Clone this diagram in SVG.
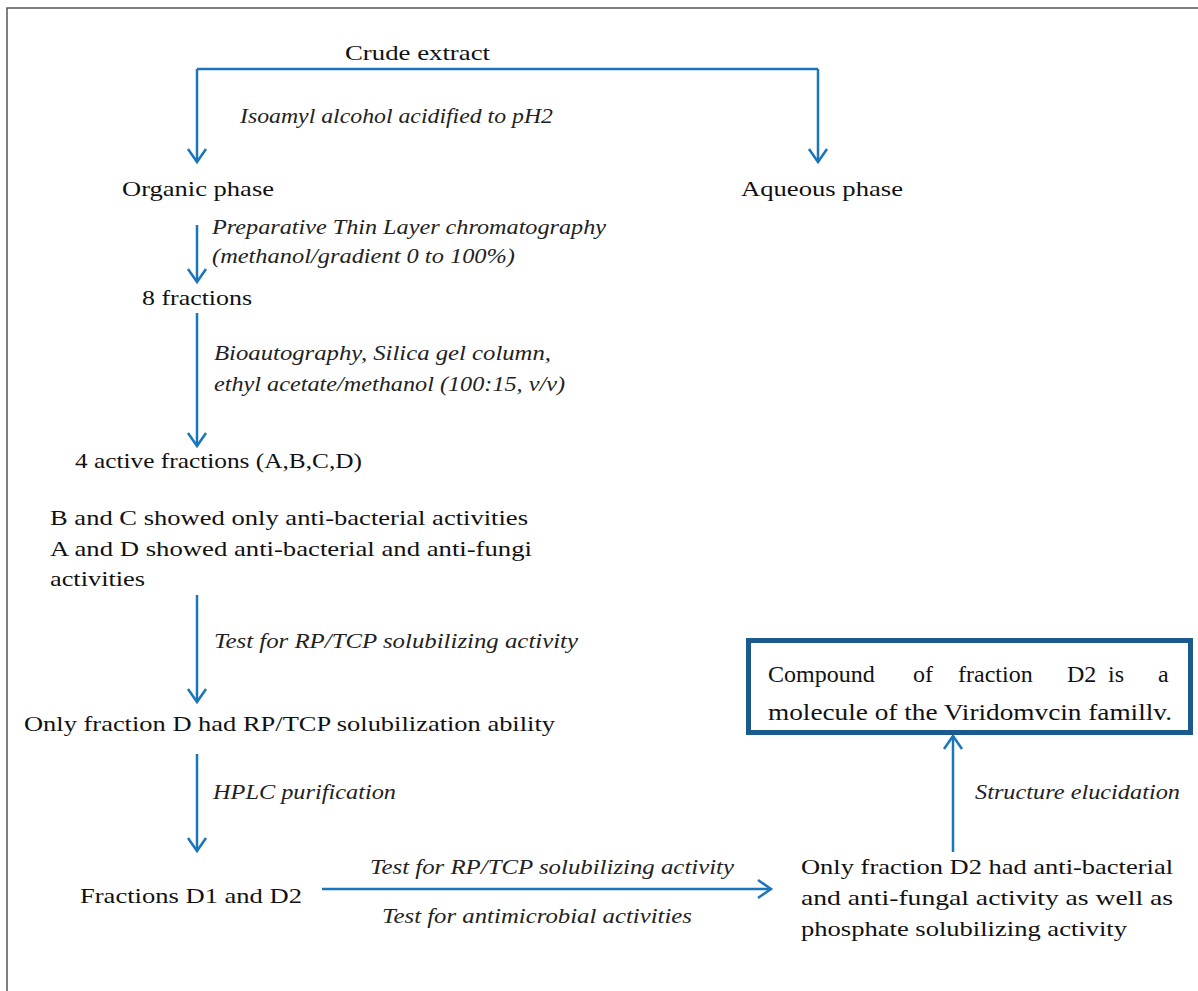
<svg xmlns="http://www.w3.org/2000/svg" width="1198" height="991" viewBox="0 0 1198 991">
<style>
  .t { font-family: "Liberation Serif", "DejaVu Serif", serif; font-size: 22px; fill: #111; }
  .b { font-family: "Liberation Serif", "DejaVu Serif", serif; font-size: 24px; fill: #111; }
  .i { font-family: "Liberation Serif", "DejaVu Serif", serif; font-size: 21px; font-style: italic; fill: #222; }
  .c { fill: none; stroke: #1b75bb; stroke-width: 2.5; }
  .frame { fill: none; stroke: #555; stroke-width: 1.5; }
</style>
<defs>
  <marker id="ah" markerUnits="userSpaceOnUse" orient="auto" refX="0" refY="0" markerWidth="20" markerHeight="24" viewBox="-16 -12 18 24" overflow="visible">
    <path d="M-13,-9 L0,0 L-13,9" fill="none" stroke="#1b75bb" stroke-width="2.5"/>
  </marker>
</defs>
<rect width="1198" height="991" fill="#fff"/>
<path class="frame" d="M7,991 V8 H1198"/>

<g id="connectors">
  <path class="c" d="M197,69 H818"/>
  <path class="c" d="M197,69 V162" marker-end="url(#ah)"/>
  <path class="c" d="M818,69 V162" marker-end="url(#ah)"/>
  <path class="c" d="M197,225 V282" marker-end="url(#ah)"/>
  <path class="c" d="M197,313 V446" marker-end="url(#ah)"/>
  <path class="c" d="M197,595 V702" marker-end="url(#ah)"/>
  <path class="c" d="M197,754 V851" marker-end="url(#ah)"/>
  <path class="c" d="M322,889 H771" marker-end="url(#ah)"/>
  <path class="c" d="M953,852 V736" marker-end="url(#ah)"/>
  <text class="i" x="240" y="123" textLength="313" lengthAdjust="spacingAndGlyphs">Isoamyl alcohol acidified to pH2</text>
  <text class="i" x="212" y="234" textLength="394" lengthAdjust="spacingAndGlyphs">Preparative Thin Layer chromatography</text>
  <text class="i" x="212" y="263" textLength="303" lengthAdjust="spacingAndGlyphs">(methanol/gradient 0 to 100%)</text>
  <text class="i" x="214" y="360" textLength="337" lengthAdjust="spacingAndGlyphs">Bioautography, Silica gel column,</text>
  <text class="i" x="214" y="391" textLength="351" lengthAdjust="spacingAndGlyphs">ethyl acetate/methanol (100:15, v/v)</text>
  <text class="i" x="214" y="648" textLength="364" lengthAdjust="spacingAndGlyphs">Test for RP/TCP solubilizing activity</text>
  <text class="i" x="213" y="799" textLength="183" lengthAdjust="spacingAndGlyphs">HPLC purification</text>
  <text class="i" x="370" y="874" textLength="364" lengthAdjust="spacingAndGlyphs">Test for RP/TCP solubilizing activity</text>
  <text class="i" x="382" y="923" textLength="310" lengthAdjust="spacingAndGlyphs">Test for antimicrobial activities</text>
  <text class="i" x="975" y="799" textLength="205" lengthAdjust="spacingAndGlyphs">Structure elucidation</text>
</g>

<g id="crude-extract"><text class="t" x="345" y="60" textLength="145" lengthAdjust="spacingAndGlyphs">Crude extract</text></g>
<g id="organic-phase"><text class="t" x="122" y="196" textLength="152" lengthAdjust="spacingAndGlyphs">Organic phase</text></g>
<g id="aqueous-phase"><text class="t" x="741" y="196" textLength="162" lengthAdjust="spacingAndGlyphs">Aqueous phase</text></g>
<g id="eight-fractions"><text class="t" x="142" y="305" textLength="110" lengthAdjust="spacingAndGlyphs">8 fractions</text></g>
<g id="four-active"><text class="t" x="75" y="468" textLength="287" lengthAdjust="spacingAndGlyphs">4 active fractions (A,B,C,D)</text></g>
<g id="activities">
  <text class="t" x="50" y="525" textLength="478" lengthAdjust="spacingAndGlyphs">B and C showed only anti-bacterial activities</text>
  <text class="t" x="50" y="556" textLength="482" lengthAdjust="spacingAndGlyphs">A and D showed anti-bacterial and anti-fungi</text>
  <text class="t" x="50" y="586" textLength="95" lengthAdjust="spacingAndGlyphs">activities</text>
</g>
<g id="fraction-d"><text class="t" x="24" y="731" textLength="531" lengthAdjust="spacingAndGlyphs">Only fraction D had RP/TCP solubilization ability</text></g>
<g id="fractions-d1-d2"><text class="t" x="80" y="903" textLength="222" lengthAdjust="spacingAndGlyphs">Fractions D1 and D2</text></g>
<g id="fraction-d2">
  <text class="t" x="801" y="874" textLength="372" lengthAdjust="spacingAndGlyphs">Only fraction D2 had anti-bacterial</text>
  <text class="t" x="801" y="905" textLength="372" lengthAdjust="spacingAndGlyphs">and anti-fungal activity as well as</text>
  <text class="t" x="801" y="936" textLength="326" lengthAdjust="spacingAndGlyphs">phosphate solubilizing activity</text>
</g>
<g id="compound-box">
  <rect x="748.5" y="640.5" width="442" height="92" fill="#fff" stroke="#1b5a8c" stroke-width="5"/>
  <text class="b" y="682">
    <tspan x="768">Compound</tspan>
    <tspan x="913">of</tspan>
    <tspan x="958">fraction</tspan>
    <tspan x="1067">D2</tspan>
    <tspan x="1108">is</tspan>
    <tspan x="1158">a</tspan>
  </text>
  <text class="b" x="768" y="720" textLength="404" lengthAdjust="spacingAndGlyphs">molecule of the Viridomvcin famillv.</text>
</g>
</svg>
